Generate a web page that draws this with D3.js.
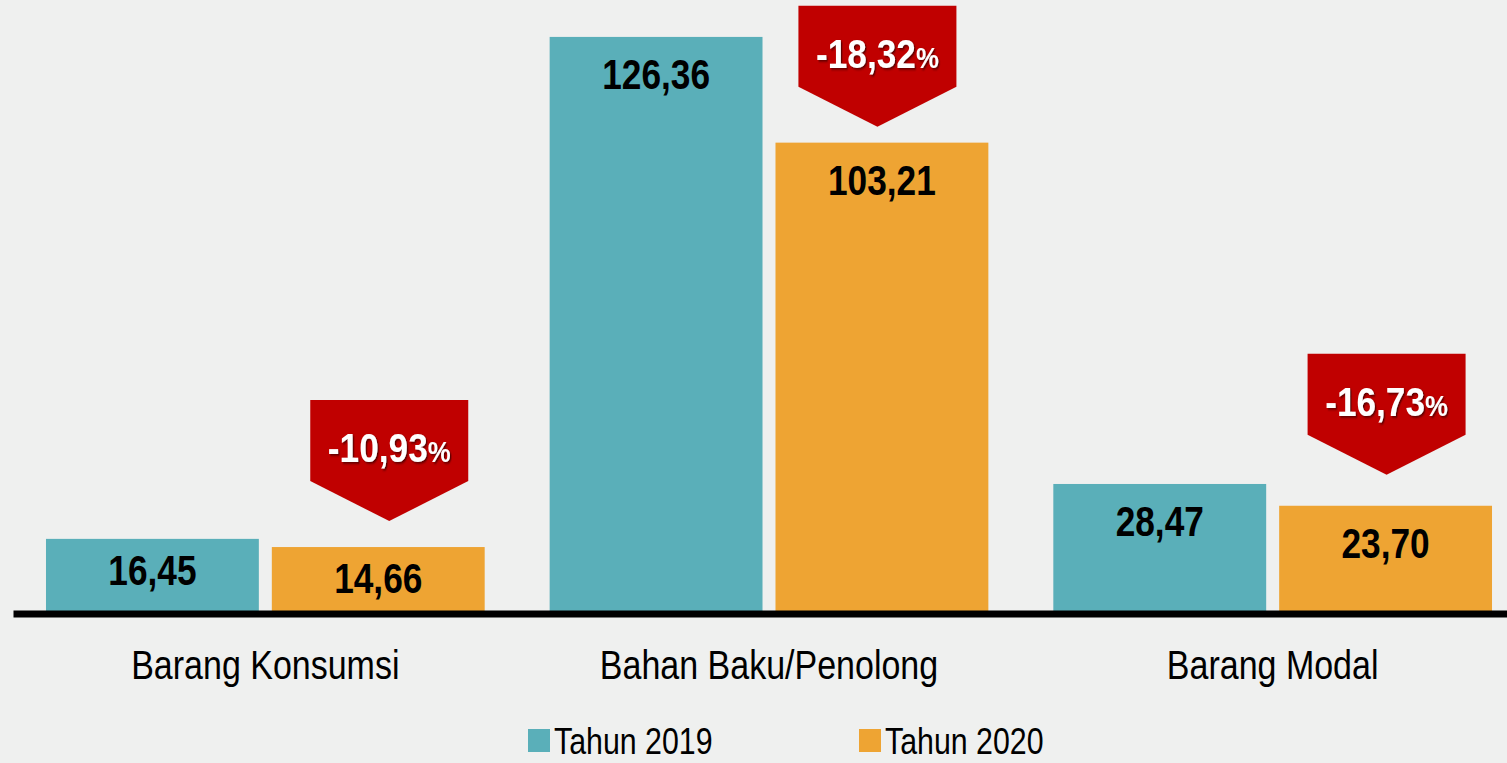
<!DOCTYPE html>
<html>
<head>
<meta charset="utf-8">
<script src="https://cdn.jsdelivr.net/npm/d3@7"></script>
<style>
  body { margin: 0; background: #eff0ef; }
  svg { display: block; font-family: "Liberation Sans", Arial, sans-serif; }
</style>
</head>
<body>
<div class="chart"></div>
<script>
const categories = ["Barang Konsumsi", "Bahan Baku/Penolong", "Barang Modal"];
const seriesNames = ["Tahun 2019", "Tahun 2020"];
const values2019 = [16.45, 126.36, 28.47];
const values2020 = [14.66, 103.21, 23.70];
const growth = [-10.93, -18.32, -16.73];

const w = 1507;
const h = 763;
const narrow = 0.82; // Arial Narrow look: squeeze Liberation Sans
const colors = { "Tahun 2019": "#5aafb9", "Tahun 2020": "#eea433" };

const locale = d3.formatLocale({ decimal: ",", thousands: ".", grouping: [3], currency: ["", ""], minus: "-" });
const fmt = locale.format(".2f");

const rows = categories.map((c, i) => ({
    name: c,
    values: [
        { key: "Tahun 2019", value: values2019[i] },
        { key: "Tahun 2020", value: values2020[i] }
    ],
    growth: growth[i]
}));

const svg = d3.select(".chart")
    .append("svg")
    .attr("width", w)
    .attr("height", h);

svg.append("rect").attr("width", w).attr("height", h).attr("fill", "#eff0ef");

const defs = svg.append("defs");
defs.append("filter")
    .attr("id", "shadow")
    .attr("x", "-10%").attr("y", "-20%").attr("width", "130%").attr("height", "150%")
    .append("feDropShadow")
    .attr("dx", 1.6).attr("dy", 1.6).attr("stdDeviation", 0.8)
    .attr("flood-color", "#3a0000").attr("flood-opacity", 0.75);

const x0 = d3.scaleBand()
    .domain(categories)
    .range([13, 1525])
    .paddingInner(0.129)
    .paddingOuter(0.0655);

const x1 = d3.scaleBand()
    .domain(seriesNames)
    .range([0, x0.bandwidth()])
    .paddingInner(0.0575);

const y = d3.scaleLinear()
    .domain([0, 140])
    .range([614, 614 - 140 * 4.567]);

// bars
const group = svg.selectAll("g.cat")
    .data(rows)
    .join("g")
    .attr("class", "cat")
    .attr("transform", d => `translate(${x0(d.name)},0)`);

group.selectAll("rect")
    .data(d => d.values)
    .join("rect")
    .attr("x", d => x1(d.key))
    .attr("y", d => y(d.value))
    .attr("width", x1.bandwidth())
    .attr("height", d => y(0) - y(d.value))
    .attr("fill", d => colors[d.key]);

group.selectAll("text.val")
    .data(d => d.values)
    .join("text")
    .attr("class", "val")
    .attr("text-anchor", "middle")
    .attr("font-size", 43)
    .attr("font-weight", "bold")
    .attr("fill", "#000")
    .attr("transform", d => {
        const off = (y(0) - y(d.value)) < 100 ? 46 : 52;
        return `translate(${x1(d.key) + x1.bandwidth() / 2},${y(d.value) + off}) scale(${narrow},1)`;
    })
    .text(d => fmt(d.value));

// axis line + category labels
const axis = svg.append("g")
    .attr("transform", "translate(0,613.5)")
    .call(d3.axisBottom(x0).tickSize(0).tickSizeOuter(0));

axis.select(".domain")
    .attr("stroke", "#000")
    .attr("stroke-width", 7);

axis.selectAll(".tick text")
    .attr("font-family", "'Liberation Sans', Arial, sans-serif")
    .attr("font-size", 40)
    .attr("fill", "#000")
    .attr("y", 0)
    .attr("dy", 0)
    .attr("transform", `translate(0,65.5) scale(0.85,1)`);

// callouts for the change in percent
const callDx = [11, -4.5, 1];
const callGap = [26, 16, 31];
const bodyW = 158, bodyH = 81, tipH = 40;

const callout = svg.selectAll("g.callout")
    .data(rows)
    .join("g")
    .attr("class", "callout")
    .attr("transform", (d, i) => {
        const cx = x0(d.name) + x1("Tahun 2020") + x1.bandwidth() / 2 + callDx[i];
        const tipY = y(d.values[1].value) - callGap[i];
        return `translate(${cx},${tipY - tipH - bodyH})`;
    });

callout.append("path")
    .attr("d", `M${-bodyW / 2},0H${bodyW / 2}V${bodyH}L0,${bodyH + tipH}L${-bodyW / 2},${bodyH}Z`)
    .attr("fill", "#c00000");

const ct = callout.append("text")
    .attr("text-anchor", "middle")
    .attr("font-weight", "bold")
    .attr("fill", "#fff")
    .attr("filter", "url(#shadow)")
    .attr("transform", `translate(0,62) scale(0.86,1)`);

ct.append("tspan")
    .attr("font-size", 41)
    .text(d => fmt(d.growth));
ct.append("tspan")
    .attr("font-size", 30)
    .text("%");

// legend
const legend = svg.append("g").attr("class", "legend");
const legendX = [528, 859];

const item = legend.selectAll("g")
    .data(seriesNames)
    .join("g")
    .attr("transform", (d, i) => `translate(${legendX[i]},729)`);

item.append("rect")
    .attr("width", 22)
    .attr("height", 23)
    .attr("fill", d => colors[d]);

item.append("text")
    .attr("font-size", 37)
    .attr("fill", "#000")
    .attr("transform", `translate(26,25) scale(0.82,1)`)
    .text(d => d);
</script>
</body>
</html>
